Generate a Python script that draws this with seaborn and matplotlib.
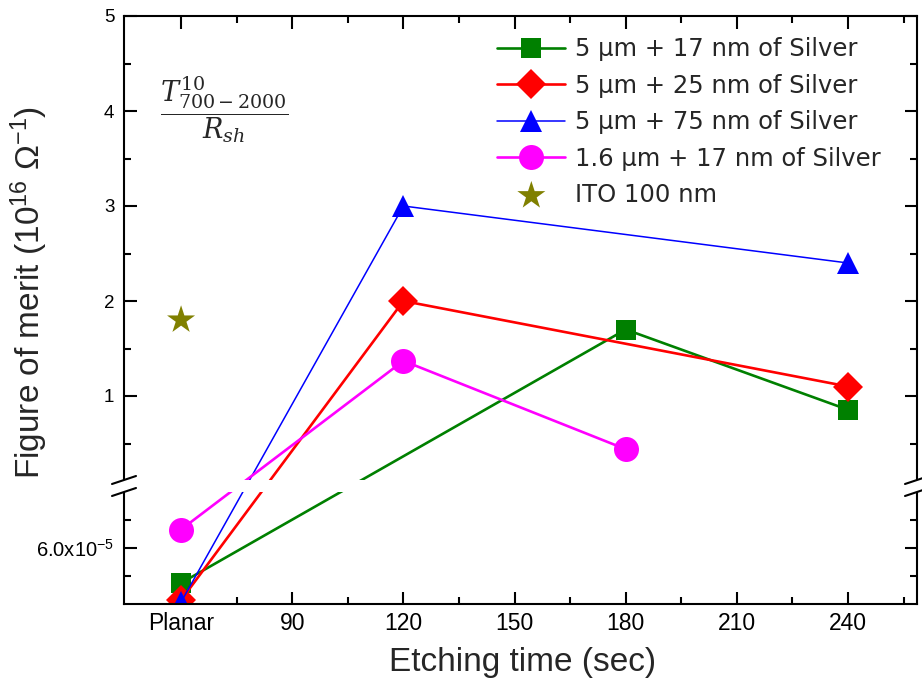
import numpy as np
import pandas as pd
import matplotlib
matplotlib.use("Agg")
import matplotlib.pyplot as plt
import seaborn as sns
from matplotlib.ticker import FixedLocator, FixedFormatter
from matplotlib.lines import Line2D
from matplotlib.patches import Rectangle

# ---------------- data ----------------
x_ticks = [60, 90, 120, 150, 180, 210, 240]
x_ticklabels = ["Planar", "90", "120", "150", "180", "210", "240"]

ag17_x = [60, 180, 240]
ag17_y = [4.75e-5, 1.70, 0.855]

ag25_x = [60, 120, 240]
ag25_y = [4.14e-5, 2.00, 1.10]

ag75_x = [60, 120, 240]
ag75_y = [4.07e-5, 3.00, 2.40]

thin17_x = [60, 120, 180]
thin17_y = [6.66e-5, 1.37, 0.44]

ito_x = [60]
ito_y = [1.80]

labels = ["5 \u03bcm + 17 nm of Silver", "5 \u03bcm + 25 nm of Silver",
          "5 \u03bcm + 75 nm of Silver", "1.6 \u03bcm + 17 nm of Silver",
          "ITO 100 nm"]

y_major = [6e-5, 1, 2, 3, 4, 5]
y_major_labels = ["6.0x10$^{-5}$", "1", "2", "3", "4", "5"]
y_minor = [5e-5, 7e-5, 0.5, 1.5, 2.5, 3.5, 4.5]

# ---------------- broken y scale ----------------
LOW0, LOW1 = 4e-5, 8e-5
PX_LOW = 28.0   # display units per 1e-5 in lower segment
PX_HI = 95.0    # display units per 1 in upper segment
HI0 = 113.0


def fwd(y):
    y = np.asarray(y, dtype=float)
    lo = (y - LOW0) / 1e-5 * PX_LOW
    hi = HI0 + y * PX_HI
    return np.where(y <= LOW1, lo, hi)


def inv(d):
    d = np.asarray(d, dtype=float)
    lo = d / PX_LOW * 1e-5 + LOW0
    hi = (d - HI0) / PX_HI
    return np.where(d <= 112.0, lo, np.where(d >= HI0, hi, LOW1))


sns.set_style("ticks")
plt.rcParams["font.family"] = ["Liberation Sans", "DejaVu Sans"]
plt.rcParams["mathtext.fontset"] = "custom"
plt.rcParams["mathtext.rm"] = "Liberation Sans"
plt.rcParams["mathtext.it"] = "Liberation Sans:italic"

fig = plt.figure(figsize=(9.22, 6.87), dpi=100)
ax = fig.add_axes([124 / 922, 83 / 687, 793 / 922, 588 / 687])
ax.set_yscale("function", functions=(fwd, inv))

series = [
    (ag17_x, ag17_y, "#008000", "s", 15, 1.9, labels[0]),
    (ag25_x, ag25_y, "#ff0000", "D", 15, 1.9, labels[1]),
    (ag75_x, ag75_y, "#0000ff", "^", 15.5, 1.1, labels[2]),
    (thin17_x, thin17_y, "#ff00ff", "o", 18, 1.9, labels[3]),
]
for xs, ys, col, mk, ms, lw, lab in series:
    sns.lineplot(x=xs, y=ys, ax=ax, color=col, marker=mk, markersize=ms,
                 linewidth=lw, markeredgecolor=col, markeredgewidth=0,
                 label=lab, sort=False, errorbar=None, zorder=2)

sns.scatterplot(x=ito_x, y=ito_y, ax=ax, color="#808000", marker="*", s=450,
                edgecolor="none", label=labels[4], zorder=2)

ax.set_xlim(44.6, 258.6)
ax.set_ylim(LOW0, 5.0)

ax.xaxis.set_major_locator(FixedLocator(x_ticks))
ax.xaxis.set_major_formatter(FixedFormatter(x_ticklabels))
ax.xaxis.set_minor_locator(FixedLocator([75, 105, 135, 165, 195, 225, 255]))
ax.yaxis.set_major_locator(FixedLocator(y_major))
ax.yaxis.set_major_formatter(FixedFormatter(y_major_labels))
ax.yaxis.set_minor_locator(FixedLocator(y_minor))

ax.tick_params(which="both", direction="in", top=True, right=True,
               width=1.5, colors="black")
ax.tick_params(which="major", length=9)
ax.tick_params(which="minor", length=5)
ax.tick_params(axis="x", which="major", labelsize=16.5, pad=6)
ax.tick_params(axis="y", which="major", labelsize=13.5, pad=7)
for t in ax.get_yticklabels():
    if "x10" in t.get_text():
        t.set_fontsize(14.5)
for sp in ax.spines.values():
    sp.set_linewidth(1.5)
    sp.set_color("black")

ax.set_xlabel("Etching time (sec)", fontsize=24)
ax.set_ylabel("Figure of merit (10$^{16}$ \u03a9$^{-1}$)", fontsize=24)
ax.xaxis.set_label_coords(0.503, -0.073)
ax.yaxis.set_label_coords(-0.093, 0.53)

# break band
b0, b1 = 112 / 588, 124 / 588
ax.add_patch(Rectangle((-0.01, b0), 1.03, b1 - b0, transform=ax.transAxes,
                       facecolor="white", edgecolor="none", zorder=3,
                       clip_on=False))
dx, dy = 12 / 793, 4 / 588
for xe in (0.0, 1.0):
    for yb in (b0, b1):
        ax.add_line(Line2D([xe - dx, xe + dx], [yb - dy, yb + dy],
                           transform=ax.transAxes, color="black", lw=1.5,
                           zorder=4, clip_on=False))

ax.text(0.127, 0.84, r"$\dfrac{T^{10}_{700-2000}}{R_{sh}}$",
        transform=ax.transAxes, fontsize=19.5, ha="center", va="center",
        math_fontfamily="dejavuserif")

leg = ax.legend(loc="upper left", bbox_to_anchor=(0.4585, 0.980),
                frameon=False, handlelength=2.8, labelspacing=0.51,
                handletextpad=0.38, borderaxespad=0.0,
                prop={"family": "DejaVu Sans", "size": 17.5})

fig.savefig("out.png", dpi=100)
